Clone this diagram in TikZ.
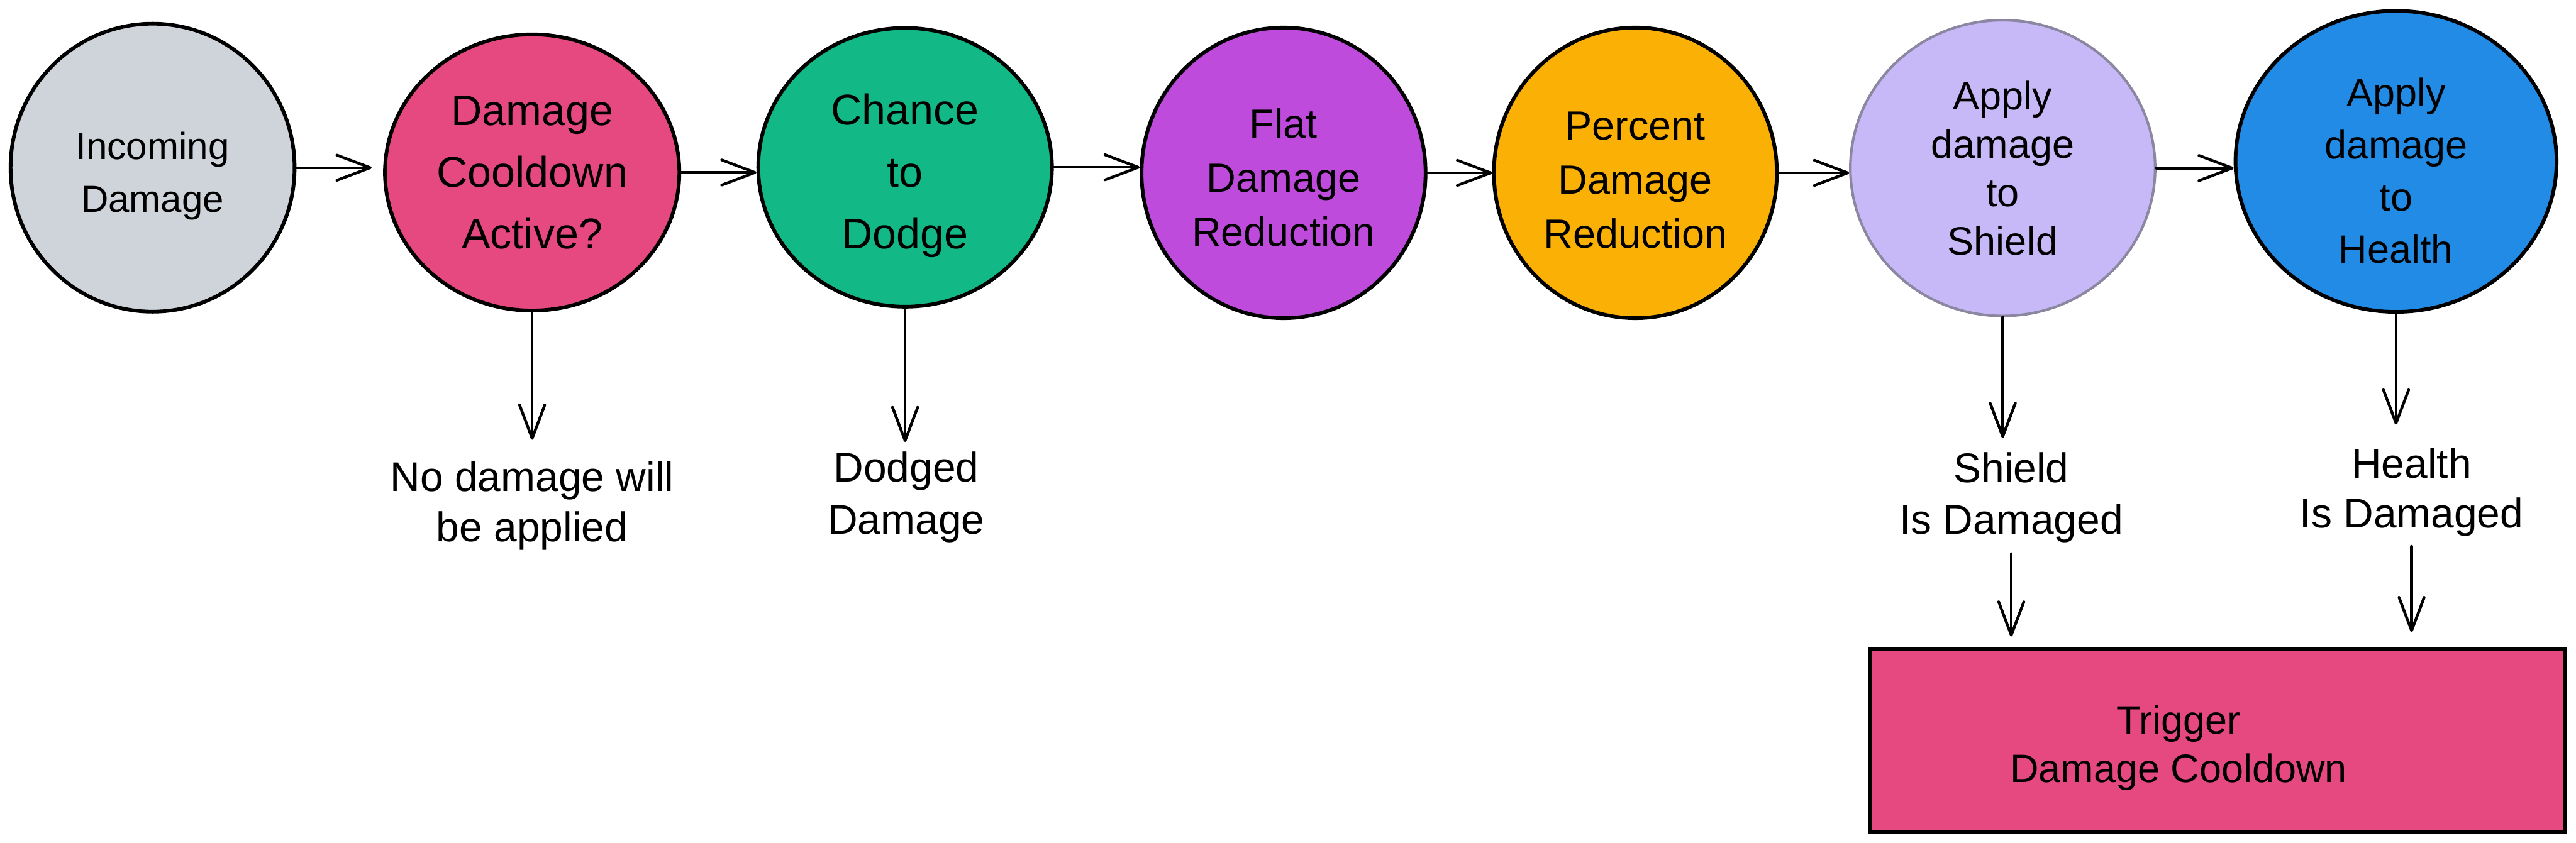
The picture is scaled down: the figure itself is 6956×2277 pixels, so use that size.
\documentclass[tikz,border=0pt]{standalone}
\usepackage{fontspec}
\setmainfont{Liberation Sans}
\usetikzlibrary{arrows.meta,shapes.geometric}
\definecolor{cgrey}{HTML}{CED4DA}
\definecolor{cpink}{HTML}{E64980}
\definecolor{cteal}{HTML}{12B886}
\definecolor{cgrape}{HTML}{BE4BDB}
\definecolor{cyellow}{HTML}{FAB005}
\definecolor{clav}{HTML}{C7B8F7}
\definecolor{cblue}{HTML}{228BE6}
\definecolor{clavborder}{HTML}{8B87A0}
\newcommand{\lift}[1]{\rule{0pt}{#1pt}}
\begin{document}
\begin{tikzpicture}[x=1pt,y=-1pt,
  bub/.style={ellipse, draw=black, line width=10pt, inner sep=0pt, align=center, text=black},
  conn/.style={line width=7.5pt, line cap=round, line join=round, -{Straight Barb[length=90pt,width=68pt,round]}},
  lbl/.style={anchor=north, align=center, inner sep=0pt, font=\fontsize{112}{138}\selectfont},
  boxnode/.style={rectangle, draw=black, line width=10pt, fill=cpink, inner sep=0pt},
]
\useasboundingbox (0,0) rectangle (6956,2277);

% bubbles
\node[bub, fill=cgrey, minimum width=767pt, minimum height=778pt,
      font=\fontsize{102}{142}\selectfont] (e1) at (412,453) {\lift{118}Incoming\\Damage};
\node[bub, fill=cpink, minimum width=795pt, minimum height=746pt,
      font=\fontsize{116}{167}\selectfont] (e2) at (1437,466) {Damage\\Cooldown\\Active?};
\node[bub, fill=cteal, minimum width=793pt, minimum height=753pt,
      font=\fontsize{116}{167}\selectfont] (e3) at (2444,452) {\lift{129}Chance\\to\\Dodge};
\node[bub, fill=cgrape, minimum width=767pt, minimum height=785pt,
      font=\fontsize{110}{146}\selectfont] (e4) at (3466,467) {\lift{106}Flat\\Damage\\Reduction};
\node[bub, fill=cyellow, minimum width=764pt, minimum height=785pt,
      font=\fontsize{110}{146}\selectfont] (e5) at (4416,467) {\lift{116}Percent\\Damage\\Reduction};
\node[bub, fill=clav, draw=clavborder, line width=7pt, minimum width=823pt, minimum height=799pt,
      font=\fontsize{107}{131}\selectfont] (e6) at (5408,454) {Apply\\damage\\to\\Shield};
\node[bub, fill=cblue, minimum width=867pt, minimum height=813pt,
      font=\fontsize{107}{141}\selectfont] (e7) at (6470,436) {\lift{128}Apply\\damage\\to\\Health};

% labels
\node[lbl, font=\fontsize{112}{136}\selectfont] (nd) at (1437,1246) {No damage will\\be applied};
\node[lbl, font=\fontsize{112}{142}\selectfont] (dg) at (2447,1220) {Dodged\\Damage};
\node[lbl, font=\fontsize{112}{139}\selectfont] (sh) at (5431,1222) {Shield\\Is Damaged};
\node[lbl, font=\fontsize{112}{135}\selectfont] (hl) at (6512,1210) {Health\\Is Damaged};

% trigger box
\node[boxnode, minimum width=1876pt, minimum height=495pt] (tb) at (5989,2000) {};
\node[lbl, font=\fontsize{107}{130}\selectfont] (tbt) at (5883,1905) {Trigger\\Damage Cooldown};

% main flow
\draw[conn, shorten >=31pt] (e1.east) -- (e1.east -| e2.west);
\draw[conn] (e2.east) -- (e2.east -| e3.west);
\draw[conn] (e3.east) -- (e3.east -| e4.west);
\draw[conn] (e4.east) -- (e4.east -| e5.west);
\draw[conn] (e5.east) -- (e5.east -| e6.west);
\draw[conn] (e6.east) -- (e6.east -| e7.west);

% down branches
\draw[conn, shorten >=58pt] (e2.south) -- (e2.south |- nd.north);
\draw[conn, shorten >=26pt] (e3.south) -- (e3.south |- dg.north);
\draw[conn, shorten >=39pt] (e6.south) -- (e6.south |- sh.north);
\draw[conn, shorten >=63pt] (e7.south) -- (e7.south |- hl.north);
\draw[conn, shorten <=30pt, shorten >=28pt] (sh.south) -- (sh.south |- tb.north);
\draw[conn, shorten <=26pt, shorten >=40pt] (hl.south) -- (hl.south |- tb.north);
\end{tikzpicture}
\end{document}
